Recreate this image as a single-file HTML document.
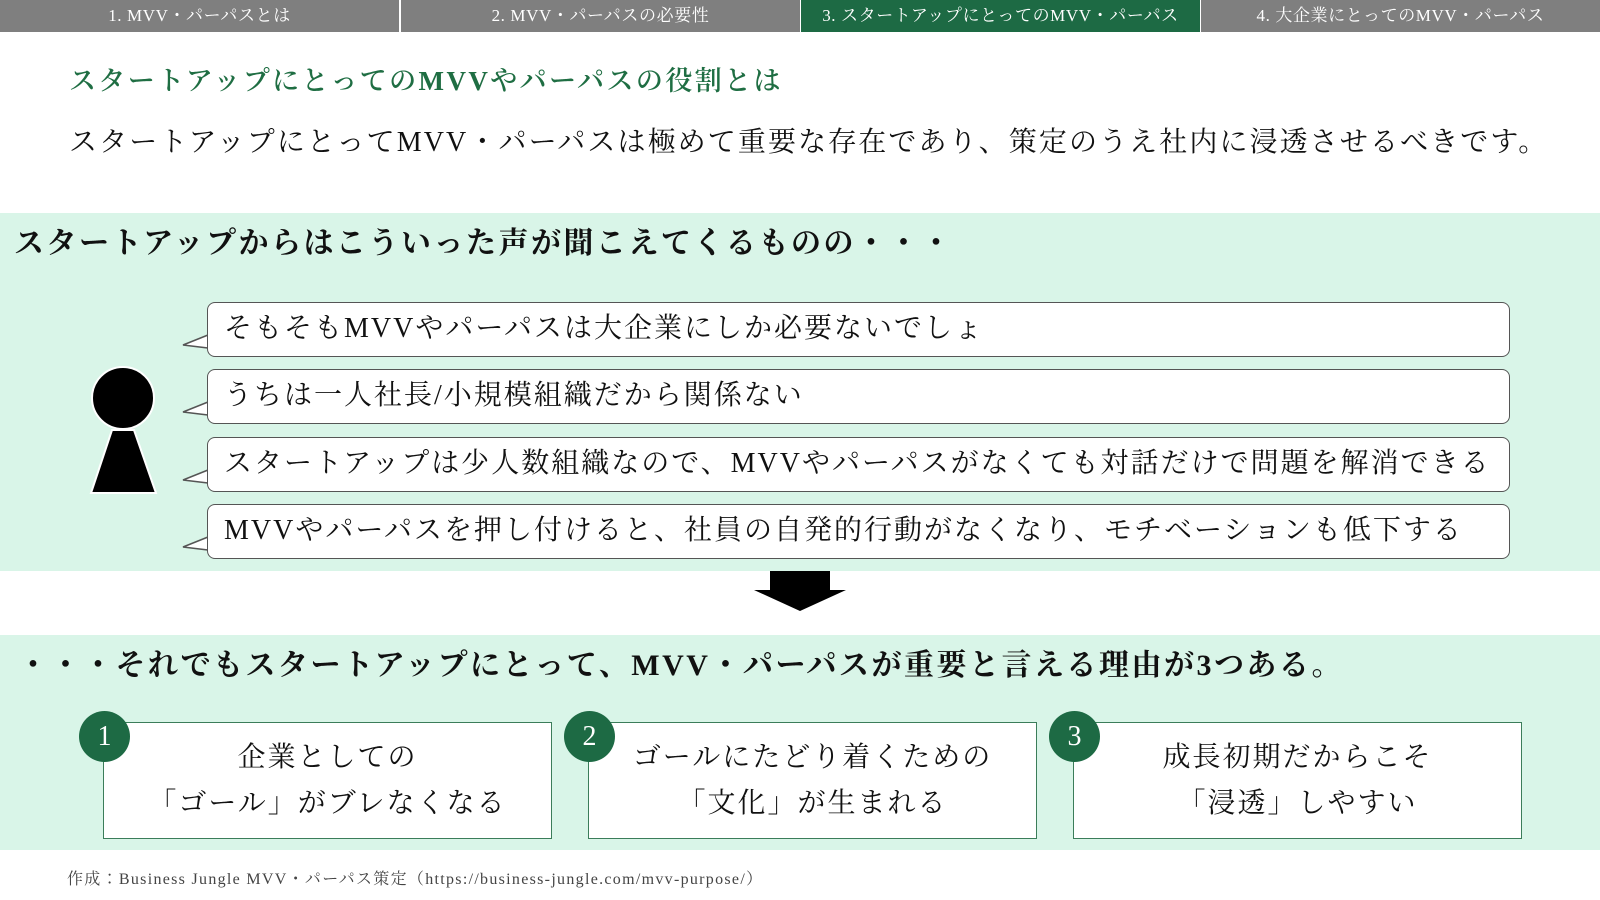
<!DOCTYPE html>
<html><head><meta charset="utf-8"><style>
*{margin:0;padding:0;box-sizing:border-box}
body{width:1600px;height:900px;position:relative;background:#fff;font-family:"Liberation Serif","Noto Serif CJK JP","Noto Serif CJK SC",serif;color:#111;overflow:hidden}
.a{position:absolute;white-space:nowrap}
.tab{position:absolute;top:0;height:32px;width:399px;background:#7f7f7f;color:#fff;font-size:17px;line-height:32px;text-align:center;letter-spacing:0.6px}
.b{position:absolute;left:207px;width:1303px;height:55px;background:#fff;border:1.5px solid #555;border-radius:8px;font-size:28px;line-height:52px;padding-left:16px;letter-spacing:2px}
.box{position:absolute;top:722px;height:117px;width:449px;background:#fff;border:1.5px solid #3b7d5a;text-align:center;font-size:28px;line-height:46px;padding-top:12px;letter-spacing:2px}
.c{position:absolute;top:711px;width:51px;height:51px;border-radius:50%;background:#1d6a44;color:#fff;font-size:28px;line-height:51px;text-align:center}
</style></head><body>
<div class="tab" style="left:0">1. MVV・パーパスとは</div>
<div class="tab" style="left:401px">2. MVV・パーパスの必要性</div>
<div class="tab" style="left:801px;background:#1d6a44">3. スタートアップにとってのMVV・パーパス</div>
<div class="tab" style="left:1201px">4. 大企業にとってのMVV・パーパス</div>
<div class="a" style="left:69px;top:59px;font-size:27px;color:#1f6e43;letter-spacing:2.4px;font-weight:600">スタートアップにとってのMVVやパーパスの役割とは</div>
<div class="a" style="left:69px;top:120px;font-size:28px;letter-spacing:2.1px">スタートアップにとってMVV・パーパスは極めて重要な存在であり、策定のうえ社内に浸透させるべきです。</div>
<div class="a" style="left:0;top:213px;width:1600px;height:358px;background:#d9f5e8"></div>
<div class="a" style="left:14px;top:218px;font-size:30px;font-weight:bold;letter-spacing:2.5px">スタートアップからはこういった声が聞こえてくるものの・・・</div>
<svg class="a" style="left:0;top:0" width="1600" height="900">
<g fill="#fff" stroke="#555" stroke-width="1.5">
<polygon points="208,335 183,345 208,348"/><polygon points="208,402 183,412 208,415"/><polygon points="208,470 183,480 208,483"/><polygon points="208,537 183,547 208,550"/>
</g>
<circle cx="123" cy="398" r="31" fill="#000" stroke="#fff" stroke-width="2"/>
<polygon points="112,430 134,430 156,493 91,493" fill="#000" stroke="#fff" stroke-width="2"/>
<polygon points="770,571 830,571 830,590 846,590 800,611 754,590 770,590" fill="#000"/>
</svg>
<div class="b" style="top:302px">そもそもMVVやパーパスは大企業にしか必要ないでしょ</div>
<div class="b" style="top:369px">うちは一人社長/小規模組織だから関係ない</div>
<div class="b" style="top:437px">スタートアップは少人数組織なので、MVVやパーパスがなくても対話だけで問題を解消できる</div>
<div class="b" style="top:504px">MVVやパーパスを押し付けると、社員の自発的行動がなくなり、モチベーションも低下する</div>
<div class="a" style="left:0;top:635px;width:1600px;height:215px;background:#d9f5e8"></div>
<div class="a" style="left:18px;top:640px;font-size:30px;font-weight:bold;letter-spacing:2.5px">・・・それでもスタートアップにとって、MVV・パーパスが重要と言える理由が3つある。</div>
<div class="box" style="left:103px">企業としての<br>「ゴール」がブレなくなる</div>
<div class="box" style="left:588px">ゴールにたどり着くための<br>「文化」が生まれる</div>
<div class="box" style="left:1073px">成長初期だからこそ<br>「浸透」しやすい</div>
<div class="c" style="left:79px">1</div>
<div class="c" style="left:564px">2</div>
<div class="c" style="left:1049px">3</div>
<div class="a" style="left:67px;top:866px;font-size:16px;color:#444;letter-spacing:1.3px">作成：Business Jungle MVV・パーパス策定（https://business-jungle.com/mvv-purpose/）</div>
</body></html>
